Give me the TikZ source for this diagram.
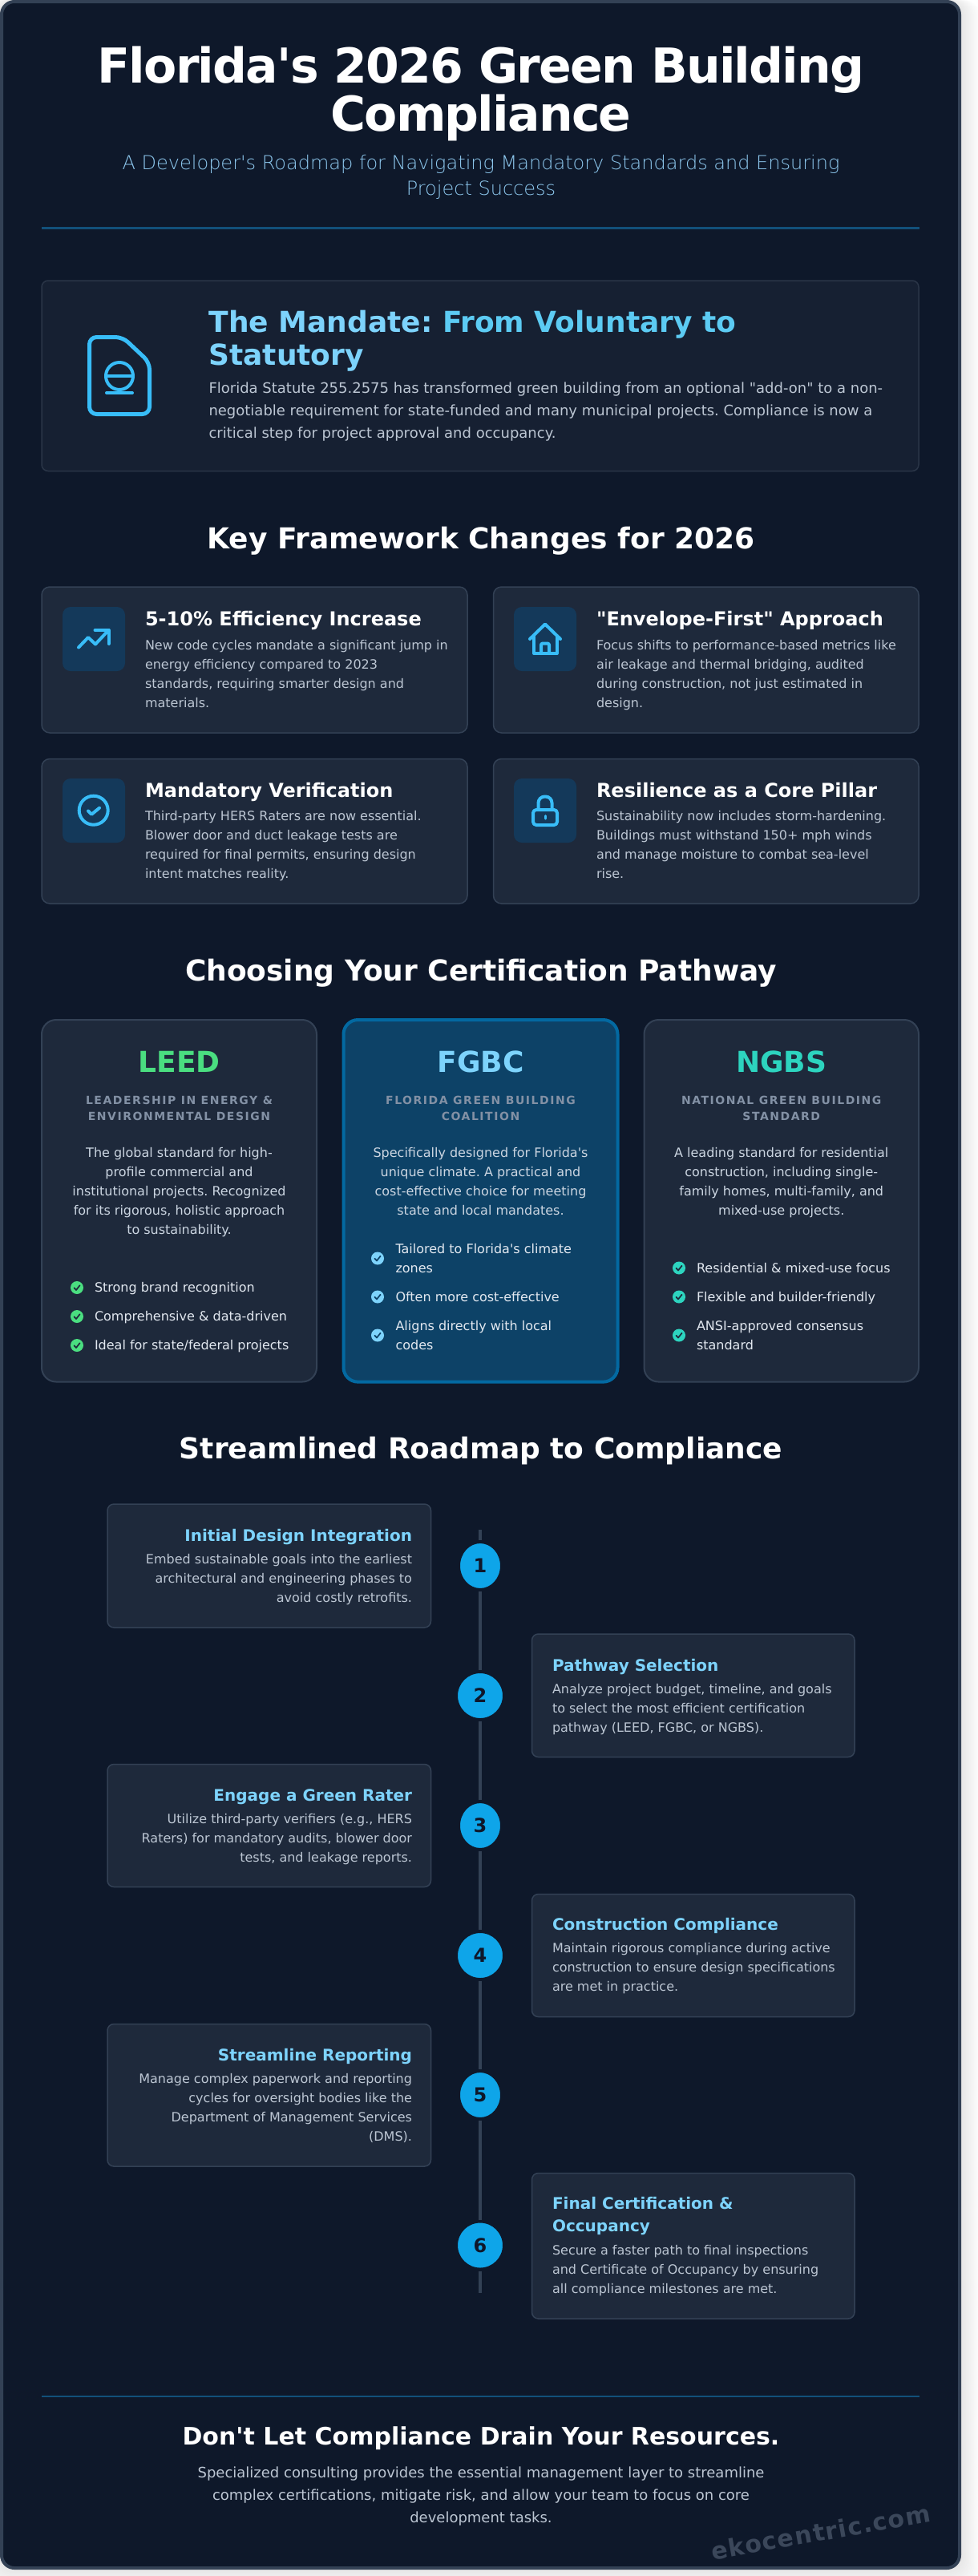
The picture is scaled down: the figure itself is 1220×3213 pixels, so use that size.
\documentclass[tikz,border=0pt]{standalone}
\usepackage{fontspec}
\setmainfont{DejaVu Sans}[Ligatures=TeXOff]
\newfontfamily\xlightfont{DejaVu Sans ExtraLight}[Ligatures=TeXOff]
\newfontfamily\spacedfont{DejaVu Sans}[Ligatures=TeXOff,LetterSpace=11]
\newfontfamily\wmfont{DejaVu Sans}[Ligatures=TeXOff,LetterSpace=5]
\newfontfamily\titlefont{DejaVu Sans}[Ligatures=TeXOff,LetterSpace=-3]
\usetikzlibrary{shapes.geometric}
\frenchspacing
\definecolor{pagebg}{HTML}{0E182A}
\definecolor{frameline}{HTML}{334155}
\definecolor{rule}{HTML}{12507A}
\definecolor{mandatefill}{HTML}{162032}
\definecolor{mandateline}{HTML}{2A3547}
\definecolor{cardfill}{HTML}{1E293B}
\definecolor{cardline}{HTML}{334155}
\definecolor{iconfill}{HTML}{14395A}
\definecolor{skyA}{HTML}{38BDF8}
\definecolor{skyB}{HTML}{7DD3FC}
\definecolor{skyC}{HTML}{5CCBF3}
\definecolor{bodydim}{HTML}{BCC6D3}
\definecolor{bodymid}{HTML}{CBD5E1}
\definecolor{bodylight}{HTML}{E2E8F0}
\definecolor{subdim}{HTML}{8391A5}
\definecolor{leedgreen}{HTML}{4ADE80}
\definecolor{ngbsteal}{HTML}{2DD4BF}
\definecolor{fgbcfill}{HTML}{0D4267}
\definecolor{fgbcline}{HTML}{0369A1}
\definecolor{stepblue}{HTML}{0EA5E9}
\definecolor{stepnum}{HTML}{0F172A}
\definecolor{subtitlecol}{HTML}{8CC6EC}
\definecolor{wmcol}{HTML}{3B475A}
\newcommand\BX[6]{\pgfmathsetmacro\mybw{#5-#3}\pgfmathsetmacro\mybh{#6-#4}%
  \node[#2,anchor=north west,minimum width=\mybw pt,minimum height=\mybh pt,inner sep=0pt,outer sep=0pt] (#1) at (#3,#4) {};}
\newcommand\TL[5]{\node[#2,anchor=base west,inner sep=0pt,outer sep=0pt] (#1) at (#3,#4) {\frenchspacing\vtop{\lineskiplimit=-1000pt\halign{##\hfil\cr#5\crcr}}};}
\newcommand\TC[5]{\node[#2,anchor=base,inner sep=0pt,outer sep=0pt] (#1) at (#3,#4) {\frenchspacing\vtop{\lineskiplimit=-1000pt\halign{\hfil##\hfil\cr#5\crcr}}};}
\newcommand\TR[5]{\node[#2,anchor=base east,inner sep=0pt,outer sep=0pt] (#1) at (#3,#4) {\frenchspacing\vtop{\lineskiplimit=-1000pt\halign{\hfil##\cr#5\crcr}}};}
\newcommand\CHK[5]{\node[chkdot,fill=#4] (#1) at (#2,#3) {};
  \draw[chkmark,draw=#5] (#2-3.6,#3+0.2) -- (#2-1,#3+3) -- (#2+3.6,#3-2.8);}
\newcommand\STEP[4]{\node[#4,stepdot] (#1) at (#2,#3) {};}
\tikzset{
  framebox/.style={draw=frameline,line width=4pt,fill=pagebg,rounded corners=16pt},
  mandatebox/.style={draw=mandateline,line width=1.5pt,fill=mandatefill,rounded corners=8pt},
  infocard/.style={draw=cardline,line width=1.5pt,fill=cardfill,rounded corners=10pt},
  iconbox/.style={fill=iconfill,rounded corners=10pt},
  pathcard/.style={draw=cardline,line width=2pt,fill=cardfill,rounded corners=18pt},
  pathfgbc/.style={draw=fgbcline,line width=4pt,fill=fgbcfill,rounded corners=18pt},
  stepcard/.style={draw=cardline,line width=1.5pt,fill=cardfill,rounded corners=8pt},
  hrule/.style={draw=rule,line width=2.5pt},
  timeline/.style={draw=frameline,line width=4pt},
  titletext/.style={font=\fontsize{60}{60}\titlefont\bfseries,text=white},
  subtitletext/.style={font=\fontsize{24}{32}\xlightfont,text=subtitlecol},
  mandatehead/.style={font=\fontsize{36}{41}\selectfont\bfseries,text=skyB},
  mandatebody/.style={font=\fontsize{18}{28.4}\selectfont,text=bodydim},
  sectitle/.style={font=\fontsize{36}{44}\selectfont\bfseries,text=white},
  cardhead/.style={font=\fontsize{24}{30}\selectfont\bfseries,text=white},
  cardbody/.style={font=\fontsize{16}{24}\selectfont,text=bodydim},
  pathname/.style={font=\fontsize{36}{44}\selectfont\bfseries},
  pathsub/.style={font=\fontsize{14}{20}\spacedfont\bfseries,text=subdim},
  pathdesc/.style={font=\fontsize{16}{24.1}\selectfont,text=bodymid},
  bullettext/.style={font=\fontsize{16}{24}\selectfont,text=bodylight},
  stephead/.style={font=\fontsize{20}{28}\selectfont\bfseries,text=skyB},
  stepbody/.style={font=\fontsize{16}{24}\selectfont,text=bodydim},
  stepdot/.style={ellipse,draw=pagebg,line width=4pt,fill=stepblue,inner sep=0pt},
  dotnarrow/.style={minimum width=54pt,minimum height=60pt},
  dotround/.style={minimum width=60pt,minimum height=60pt},
  stepnumber/.style={font=\fontsize{24}{28}\selectfont\bfseries,text=stepnum,inner sep=0pt},
  foothead/.style={font=\fontsize{30}{40}\selectfont\bfseries,text=white},
  footbody/.style={font=\fontsize{18}{28}\selectfont,text=bodydim},
  watermark/.style={font=\fontsize{30}{36}\wmfont\bfseries,text=wmcol,rotate=10,inner sep=0pt},
  chkdot/.style={circle,minimum size=16pt,inner sep=0pt,outer sep=0pt},
  chkmark/.style={line width=1.7pt,line cap=round,line join=round},
  iconline/.style={draw=skyA,line width=4pt,line cap=round,line join=round},
  bigicon/.style={draw=skyA,line width=5pt,line cap=round,line join=round},
}
\begin{document}
\begin{tikzpicture}[x=1pt,y=-1pt]
\useasboundingbox (0,0) rectangle (1220,3213);
\fill[white] (0,0) rectangle (1220,3213);
% soft page shadow
\foreach \s in {2,4,...,24}{
  \fill[black,opacity=0.007,rounded corners=20pt] (-\s,0) rectangle (1199+\s,3205+\s);
}
\BX{frame}{framebox}{2}{2}{1197}{3203}
\draw[hrule] (52,284.5) coordinate (rulea) -- (1147,284.5) coordinate (ruleb);
\TC{title}{titletext}{600}{103}{Florida's 2026 Green Building\cr Compliance}
\TC{subtitle}{subtitletext}{600}{211.5}{A Developer's Roadmap for Navigating Mandatory Standards and Ensuring\cr Project Success}
% mandate
\BX{mandate}{mandatebox}{52}{350}{1146}{587.5}
\draw[bigicon,rounded corners=9pt] (111.5,420.5) -- (153,420.5) -- (186.5,452) -- (186.5,516.5) -- (111.5,516.5) -- cycle;
\draw[iconline,draw=skyA] (149,469) circle[radius=17];
\draw[iconline] (132,469) -- (166,469);
\draw[iconline] (133,490) -- (165,490);
\TL{mandatehd}{mandatehead}{260.5}{414}{The Mandate: \textcolor{skyC}{From Voluntary to}\cr Statutory}
\TL{mandatebd}{mandatebody}{260.5}{490}{Florida Statute 255.2575 has transformed green building from an optional "add-on" to a non-\cr negotiable requirement for state-funded and many municipal projects. Compliance is now a\cr critical step for project approval and occupancy.}
% framework
\TC{sec1}{sectitle}{600}{684}{Key Framework Changes for 2026}
\BX{c1}{infocard}{52}{732}{583}{914}
\BX{c2}{infocard}{615.5}{732}{1146}{914}
\BX{c3}{infocard}{52}{946.5}{583}{1127}
\BX{c4}{infocard}{615.5}{946.5}{1146}{1127}
\BX{i1}{iconbox}{78}{757}{156}{837}
\BX{i2}{iconbox}{641}{757}{719}{837}
\BX{i3}{iconbox}{78}{971}{156}{1051}
\BX{i4}{iconbox}{641}{971}{719}{1051}
\draw[iconline] (98,807.5) -- (110,795) -- (119,803.5) -- (135.5,786);
\draw[iconline] (118.5,786) -- (135.5,786) -- (135.5,803);
\draw[iconline] (661,797) -- (680,778.5) -- (699,797);
\draw[iconline] (666,793) -- (666,815) -- (694.5,815) -- (694.5,793);
\draw[iconline,rounded corners=2pt] (675,815) -- (675,802.5) -- (685,802.5) -- (685,815);
\draw[iconline] (116.7,1010.7) circle[radius=18];
\draw[iconline] (110,1011.5) -- (114.3,1015.7) -- (124,1007.7);
\draw[iconline,rounded corners=4pt] (665,1010) rectangle (695,1029);
\draw[iconline,rounded corners=8pt] (671.5,1008) -- (671.5,993.5) -- (688.5,993.5) -- (688.5,1008);
\draw[iconline,line width=3pt] (680,1017.5) -- (680,1021);
\TL{h1}{cardhead}{181}{780.5}{5-10\% Efficiency Increase}
\TL{b1}{cardbody}{181}{810}{New code cycles mandate a significant jump in\cr energy efficiency compared to 2023\cr standards, requiring smarter design and\cr materials.}
\TL{h2}{cardhead}{744}{780.5}{"Envelope-First" Approach}
\TL{b2}{cardbody}{744}{810}{Focus shifts to performance-based metrics like\cr air leakage and thermal bridging, audited\cr during construction, not just estimated in\cr design.}
\TL{h3}{cardhead}{181}{994}{Mandatory Verification}
\TL{b3}{cardbody}{181}{1023.5}{Third-party HERS Raters are now essential.\cr Blower door and duct leakage tests are\cr required for final permits, ensuring design\cr intent matches reality.}
\TL{h4}{cardhead}{744}{994}{Resilience as a Core Pillar}
\TL{b4}{cardbody}{744}{1023.5}{Sustainability now includes storm-hardening.\cr Buildings must withstand 150+ mph winds\cr and manage moisture to combat sea-level\cr rise.}
% pathways
\TC{sec2}{sectitle}{600}{1223}{Choosing Your Certification Pathway}
\BX{leed}{pathcard}{52}{1272}{395}{1723.5}
\BX{fgbc}{pathfgbc}{428.5}{1272}{770.5}{1723.6}
\BX{ngbs}{pathcard}{803.5}{1272}{1146}{1723.5}
\TC{leedn}{pathname,text=leedgreen}{223.5}{1337.5}{LEED}
\TC{fgbcn}{pathname,text=skyB}{599.5}{1337.5}{FGBC}
\TC{ngbsn}{pathname,text=ngbsteal}{974.75}{1337.5}{NGBS}
\TC{leeds}{pathsub}{223.5}{1377}{LEADERSHIP IN ENERGY \&\cr ENVIRONMENTAL DESIGN}
\TC{fgbcs}{pathsub}{599.5}{1377}{FLORIDA GREEN BUILDING\cr COALITION}
\TC{ngbss}{pathsub}{974.75}{1377}{NATIONAL GREEN BUILDING\cr STANDARD}
\TC{leedd}{pathdesc}{223.5}{1443}{The global standard for high-\cr profile commercial and\cr institutional projects. Recognized\cr for its rigorous, holistic approach\cr to sustainability.}
\TC{fgbcd}{pathdesc}{599.5}{1443}{Specifically designed for Florida's\cr unique climate. A practical and\cr cost-effective choice for meeting\cr state and local mandates.}
\TC{ngbsd}{pathdesc}{974.75}{1443}{A leading standard for residential\cr construction, including single-\cr family homes, multi-family, and\cr mixed-use projects.}
\CHK{la}{96}{1606}{leedgreen}{cardfill}
\CHK{lb}{96}{1642}{leedgreen}{cardfill}
\CHK{lc}{96}{1678}{leedgreen}{cardfill}
\TL{lta}{bullettext}{118}{1611}{Strong brand recognition}
\TL{ltb}{bullettext}{118}{1647}{Comprehensive \& data-driven}
\TL{ltc}{bullettext}{118}{1683}{Ideal for state/federal projects}
\CHK{fa}{471}{1569.5}{skyB}{fgbcfill}
\CHK{fb}{471}{1617.5}{skyB}{fgbcfill}
\CHK{fc}{471}{1665.5}{skyB}{fgbcfill}
\TL{fta}{bullettext}{493.5}{1563}{Tailored to Florida's climate\cr zones}
\TL{ftb}{bullettext}{493.5}{1623.5}{Often more cost-effective}
\TL{ftc}{bullettext}{493.5}{1659.5}{Aligns directly with local\cr codes}
\CHK{na}{847}{1581.5}{ngbsteal}{cardfill}
\CHK{nb}{847}{1617.5}{ngbsteal}{cardfill}
\CHK{nc}{847}{1665.5}{ngbsteal}{cardfill}
\TL{nta}{bullettext}{869}{1587.5}{Residential \& mixed-use focus}
\TL{ntb}{bullettext}{869}{1623.5}{Flexible and builder-friendly}
\TL{ntc}{bullettext}{869}{1659.5}{ANSI-approved consensus\cr standard}
% roadmap
\TC{sec3}{sectitle}{600}{1819.5}{Streamlined Roadmap to Compliance}
\coordinate (tltop) at (599,1908);
\coordinate (tlbot) at (599,2860);
\STEP{s1}{599}{1953}{dotnarrow}
\STEP{s2}{599}{2115}{dotround}
\STEP{s3}{599}{2277}{dotnarrow}
\STEP{s4}{599}{2439}{dotround}
\STEP{s5}{599}{2613}{dotnarrow}
\STEP{s6}{599}{2800.5}{dotround}
\draw[timeline] (tltop) -- (s1);
\draw[timeline] (s1) -- (s2);
\draw[timeline] (s2) -- (s3);
\draw[timeline] (s3) -- (s4);
\draw[timeline] (s4) -- (s5);
\draw[timeline] (s5) -- (s6);
\draw[timeline] (s6) -- (tlbot);
\node[stepnumber] (n1) at (s1) {1};
\node[stepnumber] (n2) at (s2) {2};
\node[stepnumber] (n3) at (s3) {3};
\node[stepnumber] (n4) at (s4) {4};
\node[stepnumber] (n5) at (s5) {5};
\node[stepnumber] (n6) at (s6) {6};
\BX{r1}{stepcard}{134}{1876}{537.5}{2030}
\BX{r2}{stepcard}{663.5}{2038}{1066}{2191.5}
\BX{r3}{stepcard}{134}{2200.5}{537.5}{2353.5}
\BX{r4}{stepcard}{663.5}{2362.5}{1066}{2515.5}
\BX{r5}{stepcard}{134}{2524.5}{537.5}{2702}
\BX{r6}{stepcard}{663.5}{2710.5}{1066}{2892}
\TR{rh1}{stephead}{514}{1922}{Initial Design Integration}
\TR{rb1}{stepbody}{514}{1950}{Embed sustainable goals into the earliest\cr architectural and engineering phases to\cr avoid costly retrofits.}
\TL{rh2}{stephead}{689}{2084}{Pathway Selection}
\TL{rb2}{stepbody}{689}{2112}{Analyze project budget, timeline, and goals\cr to select the most efficient certification\cr pathway (LEED, FGBC, or NGBS).}
\TR{rh3}{stephead}{514}{2246}{Engage a Green Rater}
\TR{rb3}{stepbody}{514}{2274}{Utilize third-party verifiers (e.g., HERS\cr Raters) for mandatory audits, blower door\cr tests, and leakage reports.}
\TL{rh4}{stephead}{689}{2407.5}{Construction Compliance}
\TL{rb4}{stepbody}{689}{2435.5}{Maintain rigorous compliance during active\cr construction to ensure design specifications\cr are met in practice.}
\TR{rh5}{stephead}{514}{2570.5}{Streamline Reporting}
\TR{rb5}{stepbody}{514}{2598}{Manage complex paperwork and reporting\cr cycles for oversight bodies like the\cr Department of Management Services\cr (DMS).}
\TL{rh6}{stephead}{689}{2755.5}{Final Certification \&\cr Occupancy}
\TL{rb6}{stepbody}{689}{2812}{Secure a faster path to final inspections\cr and Certificate of Occupancy by ensuring\cr all compliance milestones are met.}
% footer
\draw[hrule] (52,2989) coordinate (rulec) -- (1147,2989) coordinate (ruled);
\TC{fh}{foothead}{600}{3049}{Don't Let Compliance Drain Your Resources.}
\TC{fb}{footbody}{600}{3090}{Specialized consulting provides the essential management layer to streamline\cr complex certifications, mitigate risk, and allow your team to focus on core\cr development tasks.}
\node[watermark] (wm) at (1024,3158) {ekocentric.com};
\end{tikzpicture}
\end{document}
